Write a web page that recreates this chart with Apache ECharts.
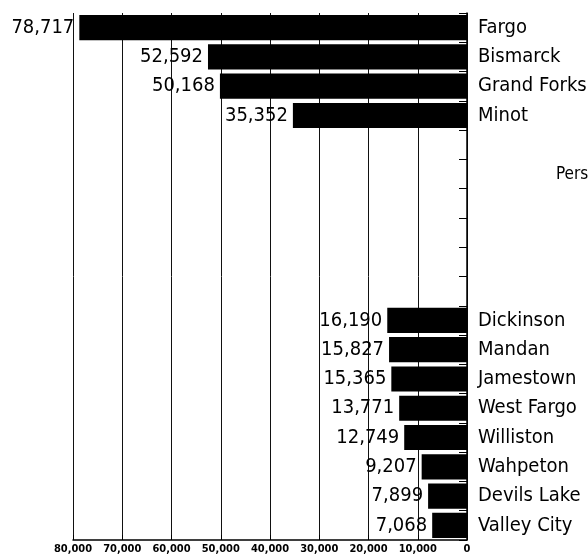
<!DOCTYPE html>
<html>
<head>
<meta charset="utf-8">
<script src="https://cdn.jsdelivr.net/npm/echarts@6/dist/echarts.min.js"></script>
<style>
  html, body { margin: 0; padding: 0; background: #fff; }
  #chart { width: 588px; height: 558px; }
</style>
</head>
<body>
<div id="chart"></div>
<script>
// cities, top to bottom; empty slots are the gap in the reference
const cities = ['Fargo', 'Bismarck', 'Grand Forks', 'Minot', '', '', '', '', '', '',
  'Dickinson', 'Mandan', 'Jamestown', 'West Fargo', 'Williston', 'Wahpeton', 'Devils Lake', 'Valley City']
const population = [78717, 52592, 50168, 35352, null, null, null, null, null, null,
  16190, 15827, 15365, 13771, 12749, 9207, 7899, 7068]
const xTicks = [0, 10000, 20000, 30000, 40000, 50000, 60000, 70000, 80000]

const narrow = '"Liberation Sans Narrow", "DejaVu Sans Condensed", "Liberation Sans", sans-serif'

const chart = echarts.init(document.getElementById('chart'))

const option = {
  backgroundColor: '#fff',
  animation: false,
  grid: { left: 73, right: 121, top: 13, bottom: 18, containLabel: false, outerBoundsMode: 'none' },
  xAxis: {
    type: 'value',
    inverse: true,
    min: xTicks[0],
    max: xTicks[xTicks.length - 1],
    interval: 10000,
    axisLine: { show: true, lineStyle: { color: '#000', width: 1.5 } },
    axisTick: { show: true, inside: true, length: 5, lineStyle: { color: '#000' } },
    axisLabel: {
      color: '#000',
      fontFamily: narrow,
      fontWeight: 'bold',
      fontSize: 11,
      margin: 4,
      hideOverlap: false,
      formatter: v => v.toLocaleString('en-US')
    },
    splitLine: { show: true, lineStyle: { color: '#111', width: 1 } }
  },
  yAxis: {
    type: 'category',
    inverse: true,
    position: 'right',
    data: cities,
    axisLine: { show: true, lineStyle: { color: '#000', width: 1.5 } },
    axisTick: { show: true, inside: true, length: 8, interval: 0, lineStyle: { color: '#000' } },
    axisLabel: {
      color: '#000',
      fontFamily: narrow,
      fontSize: 20,
      margin: 11,
      interval: 0
    }
  },
  series: [{
    type: 'bar',
    data: population,
    barCategoryGap: '14%',
    itemStyle: { color: '#000' },
    label: {
      show: true,
      position: 'left',
      distance: 5,
      color: '#000',
      fontFamily: narrow,
      fontSize: 20,
      formatter: p => p.value.toLocaleString('en-US')
    }
  }],
  graphic: [{
    type: 'text',
    left: 556,
    top: 166,
    style: { text: 'Persons', fill: '#000', font: '17px ' + narrow }
  }]
}

chart.setOption(option)
</script>
</body>
</html>
